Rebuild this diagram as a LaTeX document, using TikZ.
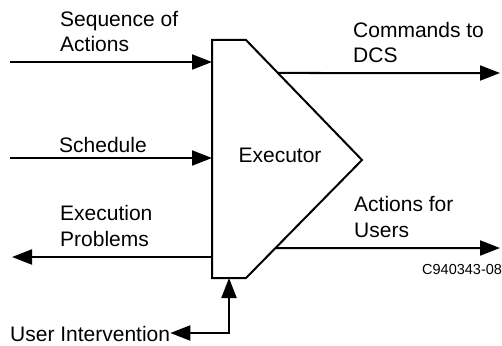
\documentclass[tikz,border=0pt]{standalone}
\usepackage{fontspec}
\setmainfont{Liberation Sans}
\usetikzlibrary{arrows.meta,calc}
\begin{document}
\begin{tikzpicture}[x=1pt,y=-1pt,
  wire/.style={line width=2pt},
  flow/.style={wire,-{Triangle[length=20pt,width=15pt]}},
  lbl/.style={inner sep=0pt,align=left,anchor=base west,
    font=\fontsize{21}{25.5}\selectfont},
  small/.style={inner sep=0pt,anchor=base west,
    font=\fontsize{14.5}{17}\selectfont}]
\useasboundingbox (0,0) rectangle (502,345);

% executor block
\coordinate (tl) at (212,40);
\coordinate (tr) at (246,40);
\coordinate (tip) at (362,160);
\coordinate (br) at (246,278);
\coordinate (bl) at (212,278);
\draw[wire] (tl) -- (tr) -- (tip) -- (br) -- (bl) -- cycle;
\node[lbl,anchor=base] (exec) at (280,162) {Executor};

% inputs (multi-line labels are placed by the baseline of their last line)
\coordinate (seqIn) at (10,62);
\draw[flow] (seqIn) -- (seqIn -| tl);
\node[lbl] (seq) at (60,52) {Sequence of\\Actions};

\coordinate (schIn) at (10,158);
\draw[flow] (schIn) -- (schIn -| tl);
\node[lbl] (sch) at (59,152) {Schedule};

% outputs
\coordinate (probOut) at (12,257);
\draw[flow] (probOut -| tl) -- (probOut);
\node[lbl] (prob) at (60,246) {Execution\\Problems};

\coordinate (cmdSrc) at ($(tr)!{33/120}!(tip)$);
\coordinate (cmdOut) at (500,73);
\draw[flow] (cmdSrc) -- (cmdOut);
\node[lbl] (cmd) at (353,63) {Commands to\\DCS};

\coordinate (actSrc) at ($(tip)!{88/118}!(br)$);
\coordinate (actOut) at (500,248);
\draw[flow] (actSrc) -- (actOut);
\node[lbl] (act) at (354,237) {Actions for\\Users};

% user intervention loop
\node[lbl] (ui) at (10,341) {User Intervention};
\coordinate (uiCorner) at (229,333);
\draw[wire,{Triangle[length=20pt,width=15pt]}-{Triangle[length=20pt,width=15pt]}]
  (ui.east |- uiCorner) -- (uiCorner) -- (uiCorner |- bl);

\node[small] (code) at (422,274) {C940343-08};
\end{tikzpicture}
\end{document}
